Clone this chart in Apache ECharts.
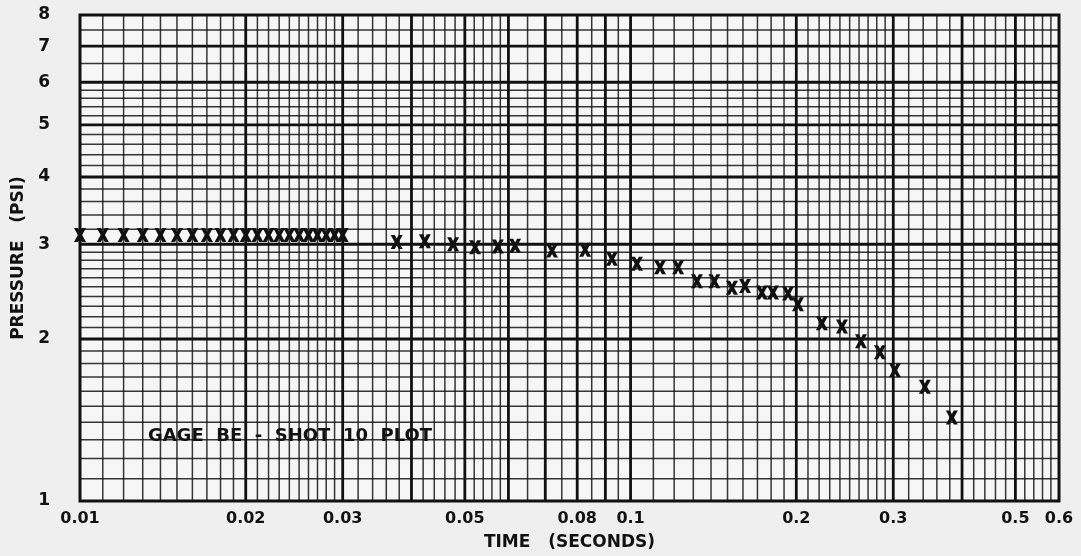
<!DOCTYPE html>
<html><head><meta charset="utf-8">
<script src="https://cdn.jsdelivr.net/npm/echarts@6/dist/echarts.min.js"></script>
<style>html,body{margin:0;padding:0;background:#efefef}#c{width:1081px;height:556px}</style>
</head><body><div id="c"></div>
<script>
// ---- tick labels ----
const xTicks = [0.01, 0.02, 0.03, 0.05, 0.08, 0.1, 0.2, 0.3, 0.5, 0.6];
const xTickLabels = ['0.01', '0.02', '0.03', '0.05', '0.08', '0.1', '0.2', '0.3', '0.5', '0.6'];
const yTicks = [1, 2, 3, 4, 5, 6, 7, 8];
const yTickLabels = ['1', '2', '3', '4', '5', '6', '7', '8'];

// ---- measured data (time in seconds, pressure in psi) ----
const times = [
  0.010, 0.011, 0.012, 0.013, 0.014, 0.015, 0.016, 0.017, 0.018, 0.019, 0.020,
  0.021, 0.022, 0.023, 0.024, 0.025, 0.026, 0.027, 0.028, 0.029, 0.030,
  0.0376, 0.0423, 0.0476, 0.0522, 0.0574, 0.0617, 0.0720, 0.0827, 0.0925,
  0.1027, 0.1131, 0.1220, 0.1320, 0.1420, 0.1528, 0.1614, 0.1732, 0.1814,
  0.1932, 0.2014, 0.2226, 0.2421, 0.2621, 0.2838, 0.3021, 0.3424, 0.3833
];
const pressures = [
  3.12, 3.12, 3.12, 3.12, 3.12, 3.12, 3.12, 3.12, 3.12, 3.12, 3.12,
  3.12, 3.12, 3.12, 3.12, 3.12, 3.12, 3.12, 3.12, 3.12, 3.12,
  3.03, 3.04, 3.00, 2.96, 2.97, 2.98, 2.92, 2.93, 2.82,
  2.76, 2.72, 2.72, 2.56, 2.56, 2.49, 2.51, 2.44, 2.44,
  2.43, 2.32, 2.14, 2.11, 1.98, 1.89, 1.75, 1.63, 1.43
];

// ---- log graph-paper rulings ----
const vMajor = [0.02, 0.03, 0.04, 0.05, 0.06, 0.07, 0.08, 0.09, 0.1, 0.2, 0.3, 0.4, 0.5];
const vMinor = [
  0.011, 0.012, 0.013, 0.014, 0.015, 0.016, 0.017, 0.018, 0.019,
  0.021, 0.022, 0.023, 0.024, 0.025, 0.026, 0.027, 0.028, 0.029,
  0.032, 0.034, 0.036, 0.038, 0.042, 0.044, 0.046, 0.048,
  0.052, 0.054, 0.056, 0.058,
  0.065, 0.075, 0.085, 0.095,
  0.11, 0.12, 0.13, 0.14, 0.15, 0.16, 0.17, 0.18, 0.19,
  0.21, 0.22, 0.23, 0.24, 0.25, 0.26, 0.27, 0.28, 0.29,
  0.32, 0.34, 0.36, 0.38, 0.42, 0.44, 0.46, 0.48,
  0.52, 0.54, 0.56, 0.58
];
const hMajor = [2, 3, 4, 5, 6, 7];
const hMinor = [
  1.1, 1.2, 1.3, 1.4, 1.5, 1.6, 1.7, 1.8, 1.9,
  2.1, 2.2, 2.3, 2.4, 2.5, 2.6, 2.7, 2.8, 2.9,
  3.2, 3.4, 3.6, 3.8, 4.2, 4.4, 4.6, 4.8,
  5.2, 5.4, 5.6, 5.8, 6.5, 7.5
];

const X_MIN = 0.01, X_MAX = 0.6, Y_MIN = 1, Y_MAX = 8;
const FONT = '"DejaVu Sans", "Liberation Sans", sans-serif';

function labelFor(ticks, labels, v) {
  let best = 0, d = Infinity;
  ticks.forEach((t, i) => { const dd = Math.abs(Math.log(t) - Math.log(v)); if (dd < d) { d = dd; best = i; } });
  return labels[best];
}

function ruling(values, vertical, width, color) {
  return {
    type: 'custom', silent: true, z: 1,
    data: values.map(v => vertical ? [v, Y_MIN] : [X_MIN, v]),
    encode: { x: 0, y: 1 },
    renderItem: function (params, api) {
      let p1, p2;
      if (vertical) {
        const x = api.value(0);
        p1 = api.coord([x, Y_MIN]); p2 = api.coord([x, Y_MAX]);
      } else {
        const y = api.value(1);
        p1 = api.coord([X_MIN, y]); p2 = api.coord([X_MAX, y]);
      }
      return { type: 'line', shape: { x1: p1[0], y1: p1[1], x2: p2[0], y2: p2[1] },
               style: { stroke: color, lineWidth: width } };
    },
    animation: false
  };
}

const chart = echarts.init(document.getElementById('c'), null, { renderer: 'canvas' });
chart.setOption({
  backgroundColor: '#efefef',
  animation: false,
  grid: { left: 80, right: 22, top: 15, bottom: 53, show: true,
          backgroundColor: '#f6f6f6', borderColor: '#111', borderWidth: 3 },
  xAxis: {
    type: 'log', logBase: 10, min: X_MIN, max: X_MAX,
    name: 'TIME   (SECONDS)', nameLocation: 'middle', nameGap: 33,
    nameTextStyle: { fontFamily: FONT, fontWeight: 'bold', fontSize: 17, color: '#111' },
    axisLine: { show: false }, axisTick: { show: false }, splitLine: { show: false },
    axisLabel: {
      customValues: xTicks, showMinLabel: true, showMaxLabel: true, hideOverlap: false,
      margin: 10, fontFamily: FONT, fontWeight: 'bold', fontSize: 16, color: '#111',
      formatter: v => labelFor(xTicks, xTickLabels, v)
    }
  },
  yAxis: {
    type: 'log', logBase: 10, min: Y_MIN, max: Y_MAX,
    name: 'PRESSURE   (PSI)', nameLocation: 'middle', nameGap: 53, nameRotate: 90,
    nameTextStyle: { fontFamily: FONT, fontWeight: 'bold', fontSize: 17, color: '#111' },
    axisLine: { show: false }, axisTick: { show: false }, splitLine: { show: false },
    axisLabel: {
      customValues: yTicks, showMinLabel: true, showMaxLabel: true, hideOverlap: false,
      margin: 30, fontFamily: FONT, fontWeight: 'bold', fontSize: 17, color: '#111',
      formatter: v => labelFor(yTicks, yTickLabels, v)
    }
  },
  graphic: [{
    type: 'group', z: 50,
    children: [
      { type: 'rect', shape: { x: 134, y: 419, width: 313, height: 33 }, style: { fill: '#f6f6f6' } },
      { type: 'text', x: 290, y: 436,
        style: { text: 'GAGE  BE  -  SHOT  10  PLOT', fontFamily: FONT, fontWeight: 'bold',
                 fontSize: 18, fill: '#111', align: 'center', verticalAlign: 'middle' } }
    ]
  }],
  series: [
    ruling(vMinor, true, 1.5, 'rgba(20,20,20,0.85)'),
    ruling(hMinor, false, 1.5, 'rgba(20,20,20,0.85)'),
    ruling(vMajor, true, 2.8, '#111'),
    ruling(hMajor, false, 2.8, '#111'),
    {
      type: 'scatter', z: 10, silent: true,
      data: times.map((t, i) => [t, pressures[i]]),
      symbol: 'path://M0,0 L3.4,0 L5,2.6 L6.6,0 L10,0 L6.8,5 L10,10 L6.6,10 L5,7.4 L3.4,10 L0,10 L3.2,5 Z',
      symbolSize: [12, 14],
      itemStyle: { color: '#111', opacity: 1 }
    }
  ]
});
</script>
</body></html>
